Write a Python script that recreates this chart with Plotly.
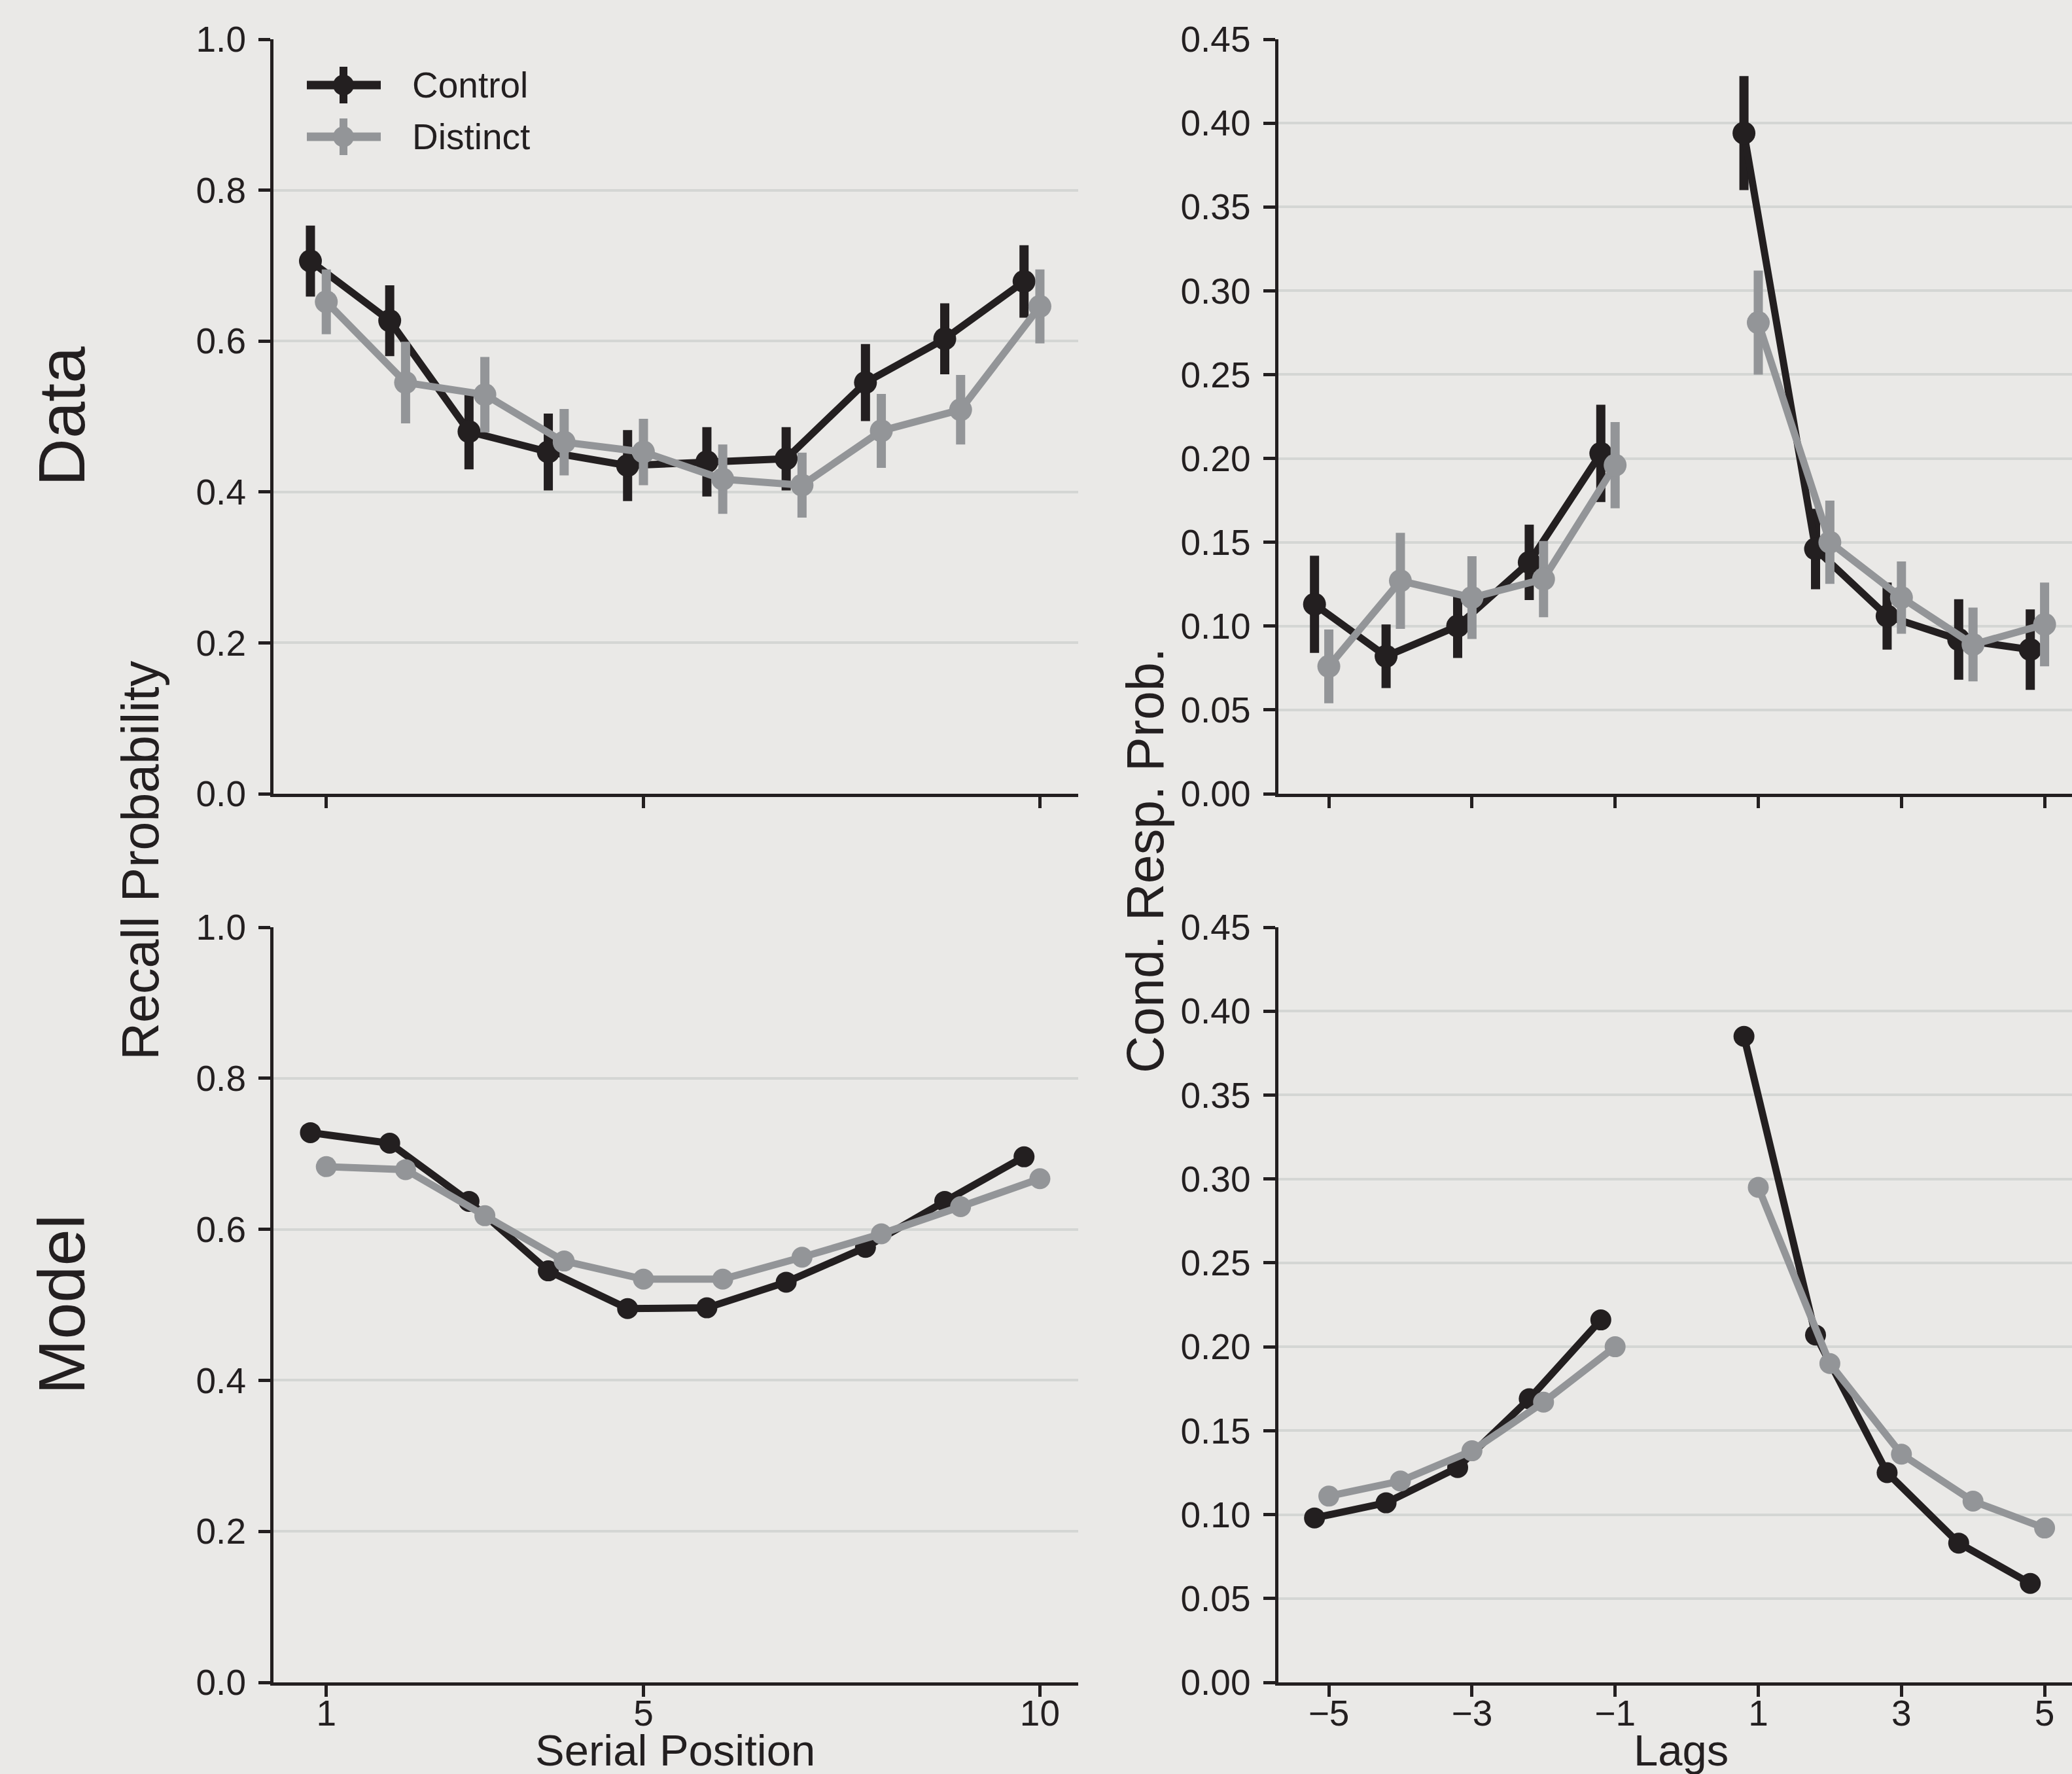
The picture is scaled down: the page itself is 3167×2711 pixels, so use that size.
import plotly.graph_objects as go

# ---------------- data ----------------
serial_positions = [1, 2, 3, 4, 5, 6, 7, 8, 9, 10]
lags = [-5, -4, -3, -2, -1, 1, 2, 3, 4, 5]

data_spc_control = [0.706, 0.627, 0.480, 0.453, 0.435, 0.440, 0.444, 0.545, 0.603, 0.679]
data_spc_control_err = [0.047, 0.047, 0.050, 0.051, 0.047, 0.046, 0.042, 0.051, 0.047, 0.048]
data_spc_distinct = [0.652, 0.545, 0.529, 0.466, 0.453, 0.417, 0.409, 0.481, 0.509, 0.646]
data_spc_distinct_err = [0.043, 0.054, 0.050, 0.044, 0.044, 0.046, 0.043, 0.049, 0.046, 0.049]

data_crp_control = [0.113, 0.082, 0.100, 0.138, 0.203, 0.394, 0.146, 0.106, 0.092, 0.086]
data_crp_control_err = [0.029, 0.019, 0.019, 0.0225, 0.029, 0.034, 0.024, 0.020, 0.024, 0.024]
data_crp_distinct = [0.076, 0.127, 0.117, 0.128, 0.196, 0.281, 0.150, 0.117, 0.089, 0.101]
data_crp_distinct_err = [0.022, 0.0286, 0.0247, 0.0227, 0.0257, 0.031, 0.0248, 0.0216, 0.022, 0.025]

model_spc_control = [0.728, 0.714, 0.637, 0.545, 0.495, 0.496, 0.530, 0.576, 0.637, 0.696]
model_spc_distinct = [0.683, 0.679, 0.618, 0.558, 0.534, 0.534, 0.563, 0.594, 0.630, 0.667]

model_crp_control = [0.098, 0.107, 0.128, 0.169, 0.216, 0.385, 0.207, 0.125, 0.083, 0.059]
model_crp_distinct = [0.111, 0.120, 0.138, 0.167, 0.200, 0.295, 0.190, 0.136, 0.108, 0.092]

spc_ticks = [1, 5, 10]
lag_ticks = [-5, -3, -1, 1, 3, 5]
lag_tick_text = ["\u22125", "\u22123", "\u22121", "1", "3", "5"]

# ---------------- style ----------------
W, H = 3167, 2711
BG = "#EAE9E7"
GRID = "#D4D6D4"
BLACK = "#231F20"
GRAY = "#939598"
FONT = "Liberation Sans, Arial, sans-serif"
DODGE = -0.2  # control series is shifted left


def px_x(p):
    return p / W


def px_y(p):
    return 1 - p / H


fig = go.Figure()


def add_series(xs, ys, err, color, xa, ya, msize, shift, gap):
    x = [v + shift for v in xs]
    y = list(ys)
    e = list(err) if err is not None else None
    if gap:
        x = x[:5] + [None] + x[5:]
        y = y[:5] + [None] + y[5:]
        if e is not None:
            e = e[:5] + [None] + e[5:]
    kw = {}
    if e is not None:
        kw["error_y"] = dict(type="data", array=e, visible=True, color=color,
                             thickness=14, width=0)
    fig.add_trace(go.Scatter(
        x=x, y=y, mode="lines+markers", xaxis=xa, yaxis=ya,
        line=dict(color=color, width=11),
        marker=dict(color=color, size=msize),
        connectgaps=False, showlegend=False, cliponaxis=False, **kw))


# top-left: data serial position
add_series(serial_positions, data_spc_control, data_spc_control_err, BLACK, "x", "y", 35, DODGE, False)
add_series(serial_positions, data_spc_distinct, data_spc_distinct_err, GRAY, "x", "y", 35, 0, False)
# top-right: data CRP
add_series(lags, data_crp_control, data_crp_control_err, BLACK, "x2", "y2", 35, DODGE, True)
add_series(lags, data_crp_distinct, data_crp_distinct_err, GRAY, "x2", "y2", 35, 0, True)
# bottom-left: model serial position
add_series(serial_positions, model_spc_control, None, BLACK, "x3", "y3", 32, DODGE, False)
add_series(serial_positions, model_spc_distinct, None, GRAY, "x3", "y3", 32, 0, False)
# bottom-right: model CRP
add_series(lags, model_crp_control, None, BLACK, "x4", "y4", 32, DODGE, True)
add_series(lags, model_crp_distinct, None, GRAY, "x4", "y4", 32, 0, True)

left_dom = [px_x(418), px_x(1648)]
right_dom = [px_x(1953.5), 1.0]
top_dom = [px_y(1213), px_y(60)]
bot_dom = [px_y(2571), px_y(1417)]

tickfont = dict(family=FONT, size=55, color=BLACK)

def xax(domain, anchor, rng, tickvals, ticktext, show_labels):
    return dict(domain=domain, anchor=anchor, range=rng, tickmode="array",
                tickvals=tickvals, ticktext=ticktext, showticklabels=show_labels,
                ticks="outside", ticklen=17, tickwidth=5, tickcolor=BLACK,
                showline=True, linewidth=5, linecolor=BLACK, showgrid=False,
                zeroline=False, tickfont=tickfont, ticklabelstandoff=-22,
                automargin=False)

def yax(domain, anchor, rng, dtick, fmt):
    return dict(domain=domain, anchor=anchor, range=rng, dtick=dtick, tick0=0,
                tickformat=fmt, ticks="outside", ticklen=18, tickwidth=5,
                tickcolor=BLACK, showline=True, linewidth=5, linecolor=BLACK,
                showgrid=True, gridcolor=GRID, gridwidth=4, zeroline=False,
                tickfont=tickfont, ticklabelstandoff=8, automargin=False)

spc_range = [0.334, 10.483]
lag_range = [-5.709, 5.383]

fig.update_layout(
    width=W, height=H,
    margin=dict(l=0, r=0, t=0, b=0, pad=0, autoexpand=False),
    paper_bgcolor=BG, plot_bgcolor=BG,
    font=dict(family=FONT, color=BLACK),
    xaxis=xax(left_dom, "y", spc_range, spc_ticks, [str(v) for v in spc_ticks], False),
    yaxis=yax(top_dom, "x", [0, 1.0], 0.2, ".1f"),
    xaxis2=xax(right_dom, "y2", lag_range, lag_ticks, lag_tick_text, False),
    yaxis2=yax(top_dom, "x2", [0, 0.45], 0.05, ".2f"),
    xaxis3=xax(left_dom, "y3", spc_range, spc_ticks, [str(v) for v in spc_ticks], True),
    yaxis3=yax(bot_dom, "x3", [0, 1.0], 0.2, ".1f"),
    xaxis4=xax(right_dom, "y4", lag_range, lag_ticks, lag_tick_text, True),
    yaxis4=yax(bot_dom, "x4", [0, 0.45], 0.05, ".2f"),
)

annotations = []
def ann(text, x, y, size, angle=0, xanchor="center", yanchor="middle"):
    annotations.append(dict(text=text, x=px_x(x), y=px_y(y), xref="paper", yref="paper",
                            showarrow=False, textangle=angle, xanchor=xanchor,
                            yanchor=yanchor, font=dict(family=FONT, size=size, color=BLACK)))

ann("Data", 94, 636, 101, -90)
ann("Model", 94, 1994, 101, -90)
ann("Recall Probability", 214, 1315, 79, -90)
ann("Cond. Resp. Prob.", 1750, 1315, 79, -90)
ann("Serial Position", 1032, 2674, 67)
ann("Lags", 2569, 2674, 67)

# legend (drawn manually: line, marker, error-bar glyph, label)
shapes = []
legend_items = [("Control", BLACK, 130), ("Distinct", GRAY, 209)]
for label, color, yc in legend_items:
    shapes.append(dict(type="line", xref="paper", yref="paper",
                       x0=px_x(469), x1=px_x(582), y0=px_y(yc), y1=px_y(yc),
                       line=dict(color=color, width=13)))
    shapes.append(dict(type="line", xref="paper", yref="paper",
                       x0=px_x(525), x1=px_x(525), y0=px_y(yc - 28), y1=px_y(yc + 28),
                       line=dict(color=color, width=12)))
    shapes.append(dict(type="circle", xref="paper", yref="paper",
                       x0=px_x(525 - 16), x1=px_x(525 + 16), y0=px_y(yc + 16), y1=px_y(yc - 16),
                       fillcolor=color, line=dict(color=color, width=0)))
    ann(label, 628, yc, 55, 0, "left")

fig.update_layout(annotations=annotations, shapes=shapes)

fig.write_html("out.html", config={"displayModeBar": False},
               post_script="document.body.style.margin='0';document.body.style.overflow='hidden';")
